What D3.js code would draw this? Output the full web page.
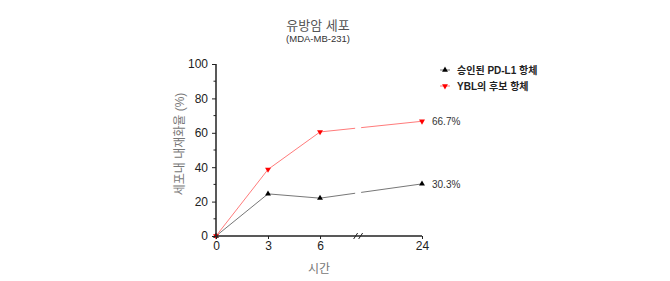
<!DOCTYPE html>
<html>
<head>
<meta charset="utf-8">
<script src="https://cdn.jsdelivr.net/npm/d3@7"></script>
<style>
  body { margin: 0; background: #fff; }
  text { font-family: "Liberation Sans", Arial, "Noto Sans CJK KR", sans-serif; }
</style>
</head>
<body>
<div id="chart"></div>
<script>
// data
var hours = [0, 3, 6, 24];
var approved = [0, 24.5, 22, 30.3];      // 승인된 PD-L1 항체
var candidate = [0, 38.7, 60.5, 66.7];   // YBL의 후보 항체
var yTicks = [0, 20, 40, 60, 80, 100];
var seriesNames = ["승인된 PD-L1 항체", "YBL의 후보 항체"];
var endLabels = ["30.3%", "66.7%"];

var svgWidth = 670;
var svgHeight = 281;
var margin = { top: 64, right: 248, bottom: 45, left: 216 };
var width = svgWidth - margin.left - margin.right;
var height = svgHeight - margin.top - margin.bottom;

var svg = d3.select("#chart").append("svg")
  .attr("width", svgWidth)
  .attr("height", svgHeight);

var g = svg.append("g")
  .attr("transform", `translate(${margin.left}, ${margin.top})`);

// broken x axis: 0-6 and then jump to 24
var x = d3.scaleLinear().domain([0, 6, 24]).range([0, width * 0.505, width]);
var y = d3.scaleLinear().domain([0, 100]).range([height, 0]);
var breakX = width * 0.69;

// lines
var line = d3.line().x((d, i) => x(hours[i])).y(d => y(d));

g.append("path").datum(approved)
  .attr("d", line).attr("fill", "none")
  .attr("stroke", "#777").attr("stroke-width", 1);

g.append("path").datum(candidate)
  .attr("d", line).attr("fill", "none")
  .attr("stroke", "#ff7b7b").attr("stroke-width", 1);

// gap in the lines at the break
g.append("rect")
  .attr("x", breakX - 3).attr("y", 0)
  .attr("width", 6).attr("height", height - 4)
  .attr("fill", "#fff");

// markers
var triUp = d3.symbol().type(d3.symbolTriangle).size(15);
g.selectAll(".m1").data(approved).enter().append("path")
  .attr("class", "m1")
  .attr("d", triUp)
  .attr("transform", (d, i) => `translate(${x(hours[i])}, ${y(d)})`)
  .attr("fill", "#000");

g.selectAll(".m2").data(candidate).enter().append("path")
  .attr("class", "m2")
  .attr("d", triUp)
  .attr("transform", (d, i) => `translate(${x(hours[i])}, ${y(d)}) rotate(180)`)
  .attr("fill", "#ff0000");

// axes
var yAxis = g.append("g")
  .call(d3.axisLeft(y).tickValues(yTicks).tickSize(4).tickPadding(4));
yAxis.append("g").selectAll("line")
  .data(d3.range(10, 100, 20)).enter().append("line")
  .attr("x1", 0).attr("x2", -2.5)
  .attr("y1", d => y(d)).attr("y2", d => y(d))
  .attr("stroke", "#222");

var xAxis = g.append("g")
  .attr("transform", `translate(0, ${height})`)
  .call(d3.axisBottom(x).tickValues(hours).tickSize(3).tickPadding(2));

[yAxis, xAxis].forEach(function(a) {
  a.select(".domain").attr("stroke", "#222").attr("stroke-width", 1.5);
  a.selectAll(".tick line").attr("stroke", "#222");
  a.selectAll(".tick text").attr("fill", "#222").style("font-size", "12px");
});
xAxis.select(".domain").attr("d", `M0,0H${width}`);
yAxis.select(".domain").attr("d", `M0,${height}V0`);

// break marks on x axis
[-2.5, 2.5].forEach(function(dx) {
  g.append("line")
    .attr("x1", breakX + dx - 2).attr("y1", height + 3)
    .attr("x2", breakX + dx + 2).attr("y2", height - 3)
    .attr("stroke", "#222").attr("stroke-width", 1);
});

// end labels
g.append("text").attr("x", width + 10).attr("y", y(approved[3]) + 4)
  .attr("fill", "#333").style("font-size", "10px").text(endLabels[0]);
g.append("text").attr("x", width + 10).attr("y", y(candidate[3]) + 4)
  .attr("fill", "#333").style("font-size", "10px").text(endLabels[1]);

// titles
svg.append("text").attr("x", 318).attr("y", 30)
  .attr("text-anchor", "middle").attr("fill", "#555")
  .style("font-size", "13px").text("유방암 세포");
svg.append("text").attr("x", 318).attr("y", 42)
  .attr("text-anchor", "middle").attr("fill", "#333")
  .style("font-size", "9.5px").text("(MDA-MB-231)");

svg.append("text").attr("x", margin.left + width / 2).attr("y", 273)
  .attr("text-anchor", "middle").attr("fill", "#777")
  .style("font-size", "12px").text("시간");

svg.append("text")
  .attr("transform", `translate(184, ${margin.top + height / 2 - 6}) rotate(-90)`)
  .attr("text-anchor", "middle").attr("fill", "#777")
  .style("font-size", "12px").text("세포내 내재화율 (%)");

// legend
var legend = svg.append("g").attr("transform", "translate(440, 70)");
seriesNames.forEach(function(name, i) {
  var row = legend.append("g").attr("transform", `translate(0, ${i * 16})`);
  row.append("line").attr("x1", 0).attr("x2", 10)
    .attr("stroke", i === 0 ? "#777" : "#ff7b7b");
  row.append("path").attr("d", triUp)
    .attr("transform", `translate(5, 0)${i === 0 ? "" : " rotate(180)"}`)
    .attr("fill", i === 0 ? "#000" : "#ff0000");
  row.append("text").attr("x", 17).attr("y", 4)
    .attr("fill", "#222").style("font-size", "10px").style("font-weight", "bold")
    .text(name);
});
</script>
</body>
</html>
